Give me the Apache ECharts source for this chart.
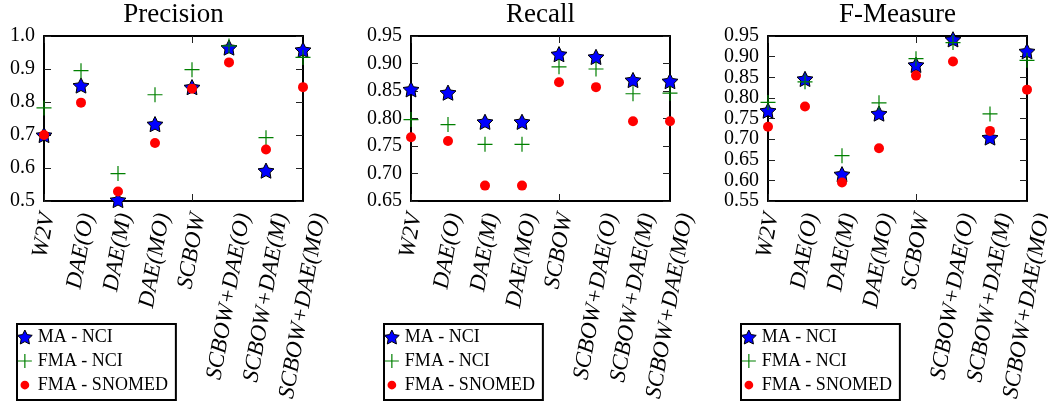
<!DOCTYPE html>
<html>
<head>
<meta charset="utf-8">
<script src="https://cdn.jsdelivr.net/npm/echarts@6/dist/echarts.min.js"></script>
<style>
  html, body { margin: 0; padding: 0; background: #fff; }
  #chart { width: 1048px; height: 401px; }
</style>
</head>
<body>
<div id="chart"></div>
<script>
const categories = ['W2V', 'DAE(O)', 'DAE(M)', 'DAE(MO)', 'SCBOW', 'SCBOW+DAE(O)', 'SCBOW+DAE(M)', 'SCBOW+DAE(MO)'];
const seriesNames = ['MA - NCI', 'FMA - NCI', 'FMA - SNOMED'];
const titles = ['Precision', 'Recall', 'F-Measure'];

// Precision
const precMA = [0.700, 0.850, 0.503, 0.733, 0.845, 0.965, 0.592, 0.958];
const precFmaNci = [0.782, 0.895, 0.583, 0.822, 0.898, 0.970, 0.692, 0.935];
const precFmaSnomed = [0.700, 0.798, 0.529, 0.676, 0.840, 0.920, 0.656, 0.845];

// Recall
const recMA = [0.853, 0.847, 0.794, 0.794, 0.917, 0.912, 0.870, 0.868];
const recFmaNci = [0.798, 0.789, 0.753, 0.753, 0.894, 0.890, 0.845, 0.846];
const recFmaSnomed = [0.766, 0.759, 0.678, 0.678, 0.866, 0.857, 0.795, 0.795];

// F-Measure
const fmMA = [0.769, 0.846, 0.615, 0.762, 0.880, 0.942, 0.704, 0.913];
const fmFmaNci = [0.789, 0.839, 0.660, 0.788, 0.895, 0.934, 0.761, 0.891];
const fmFmaSnomed = [0.730, 0.779, 0.595, 0.678, 0.854, 0.888, 0.720, 0.820];

// y axis ranges per panel
const yMins = [0.5, 0.65, 0.55];
const yMaxs = [1.0, 0.95, 0.95];
const ySteps = [0.1, 0.05, 0.05];
const yDigits = [1, 2, 2];

const panelData = [
  [precMA, precFmaNci, precFmaSnomed],
  [recMA, recFmaNci, recFmaSnomed],
  [fmMA, fmFmaNci, fmFmaSnomed]
];

const gridLefts = [44, 411, 768];
const gridWidth = 259;
const gridTop = 36;
const gridHeight = 165;
const legendLefts = [17, 384, 741];

const SERIF = '"Liberation Serif", "DejaVu Serif", serif';
const STAR = 'path://M0,-10L2.94,-4.05L9.51,-3.09L4.76,1.55L5.88,8.09L0,5L-5.88,8.09L-4.76,1.55L-9.51,-3.09L-2.94,-4.05Z';
const PLUS = 'path://M0,-1L0,1M-1,0L1,0';
const DOT = 'path://M-8,-8M8,8M0,-5A5,5,0,1,1,0,5A5,5,0,1,1,0,-5Z';

const markerStyles = [
  { symbol: STAR, symbolSize: 16, itemStyle: { color: '#0000ff', borderColor: '#000', borderWidth: 1, opacity: 1 } },
  { symbol: PLUS, symbolSize: 15, itemStyle: { color: 'rgba(0,0,0,0)', borderColor: '#008000', borderWidth: 1.2, opacity: 1 } },
  { symbol: 'circle', symbolSize: 10, itemStyle: { color: '#ff0000', borderWidth: 0, opacity: 1 } }
];
const legendIcons = [STAR, PLUS, DOT];

const chart = echarts.init(document.getElementById('chart'));

const frame = { show: true, onZero: false, lineStyle: { color: '#000', width: 2 } };
const inTick = { show: true, inside: true, length: 7, lineStyle: { color: '#222', width: 1 } };

const grid = [], xAxis = [], yAxis = [], series = [], title = [], legend = [];

for (let g = 0; g < 3; g++) {
  grid.push({ left: gridLefts[g], top: gridTop, width: gridWidth, height: gridHeight });
  title.push({
    text: titles[g],
    left: gridLefts[g] + gridWidth / 2,
    top: 0,
    padding: [1, 0, 0, 0],
    textAlign: 'center',
    textStyle: { fontFamily: SERIF, fontSize: 27, fontWeight: 'normal', color: '#000' }
  });
  ['bottom', 'top'].forEach(pos => {
    xAxis.push({
      gridIndex: g, type: 'category', data: categories, boundaryGap: false, position: pos,
      axisLine: frame, axisTick: inTick, axisLabel: { show: false }, splitLine: { show: false }
    });
  });
  ['left', 'right'].forEach(pos => {
    yAxis.push({
      gridIndex: g, type: 'value', min: yMins[g], max: yMaxs[g], interval: ySteps[g], position: pos,
      axisLine: frame, axisTick: inTick, splitLine: { show: false },
      axisLabel: {
        show: pos === 'left', margin: 9, color: '#000', fontFamily: SERIF, fontSize: 20,
        formatter: v => v.toFixed(yDigits[g])
      }
    });
  });
  panelData[g].forEach((vals, s) => {
    series.push(Object.assign({
      name: seriesNames[s], type: 'scatter', xAxisIndex: 2 * g, yAxisIndex: 2 * g,
      symbolKeepAspect: true, clip: true, z: 2 + s,
      data: vals
    }, markerStyles[s]));
  });
  legend.push({
    left: legendLefts[g], top: 324, orient: 'vertical', selectedMode: false,
    padding: [4, 8, 6, 0], itemGap: 6, itemWidth: 16, itemHeight: 14,
    borderColor: '#000', borderWidth: 2, backgroundColor: '#fff',
    textStyle: { fontFamily: SERIF, fontSize: 18, color: '#000' },
    data: seriesNames.map((n, s) => ({ name: n, icon: legendIcons[s], itemStyle: markerStyles[s].itemStyle }))
  });
}

chart.setOption({ animation: false, title, grid, xAxis, yAxis, series, legend });

// rotated category labels, centred under each tick like the original
const ctx = document.createElement('canvas').getContext('2d');
const labelFont = 'italic 23px "Liberation Serif"';
ctx.font = labelFont;
const ang = 80 * Math.PI / 180;
const labels = [];
for (let g = 0; g < 3; g++) {
  categories.forEach(c => {
    const x = chart.convertToPixel({ xAxisIndex: 2 * g }, c);
    const L = ctx.measureText(c).width;
    const bh = L * Math.sin(ang) + 15 * Math.cos(ang);
    labels.push({
      type: 'text', x: x, y: gridTop + gridHeight + 11 + bh / 2, rotation: ang,
      style: { text: c, font: labelFont, fill: '#000', align: 'center', verticalAlign: 'middle', textAlign: 'center', textVerticalAlign: 'middle' }
    });
  });
}
chart.setOption({ graphic: labels });
</script>
</body>
</html>
